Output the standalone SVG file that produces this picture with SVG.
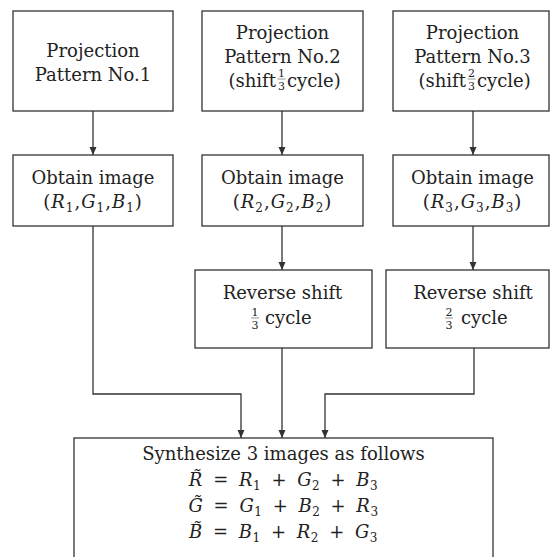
<svg xmlns="http://www.w3.org/2000/svg" width="550" height="557" viewBox="0 0 550 557">
<defs>
<marker id="arr" viewBox="0 0 8 10" refX="8" refY="5" markerWidth="8" markerHeight="10" markerUnits="userSpaceOnUse" orient="auto">
<path d="M0,1.5 L8,5 L0,8.5 z" fill="#333"/>
</marker>
<style>
rect.box{fill:#fff;stroke:#333;stroke-width:1.3}
text{font-family:"DejaVu Serif","Liberation Serif",serif;font-size:18px;fill:#222;text-anchor:middle}
text.fr{font-size:11px}
text.l{text-anchor:end}
text.r{text-anchor:start}
text.m{word-spacing:4px;letter-spacing:0.5px}
text.t{letter-spacing:1px}
.i{font-style:italic}
.sub{font-size:12px}
line.bar{stroke:#666;stroke-width:0.7}
.conn{fill:none;stroke:#333;stroke-width:1.3;marker-end:url(#arr)}
</style>
</defs>
<rect width="550" height="557" fill="#fff"/>
<g id="connectors">
<path class="conn" d="M93,111 V155"/>
<path class="conn" d="M282,111 V155"/>
<path class="conn" d="M473,111 V155"/>
<path class="conn" d="M282,226 V270"/>
<path class="conn" d="M473,226 V270"/>
<path class="conn" d="M93,226 V394 H241 V438"/>
<path class="conn" d="M282,348 V438"/>
<path class="conn" d="M474,348 V394 H325 V438"/>
</g>
<g id="proj1">
<rect class="box" x="13" y="11" width="160" height="100"/>
<text x="93" y="57">Projection</text>
<text x="93" y="81">Pattern No.1</text>
</g>
<g id="proj2">
<rect class="box" x="202" y="11" width="161" height="100"/>
<text x="282.5" y="39">Projection</text>
<text x="282.5" y="63">Pattern No.2</text>
<text class="l" x="276" y="87">(shift</text>
<text class="fr" x="281.5" y="77">1</text>
<line class="bar" x1="277.5" y1="79" x2="285.5" y2="79"/>
<text class="fr" x="281.5" y="90">3</text>
<text class="r" x="287" y="87">cycle)</text>
</g>
<g id="proj3">
<rect class="box" x="393" y="11" width="156" height="100"/>
<text x="472.5" y="39">Projection</text>
<text x="472.5" y="63">Pattern No.3</text>
<text class="l" x="466" y="87">(shift</text>
<text class="fr" x="471.5" y="77">2</text>
<line class="bar" x1="467.5" y1="79" x2="475.5" y2="79"/>
<text class="fr" x="471.5" y="90">3</text>
<text class="r" x="477" y="87">cycle)</text>
</g>
<g id="obtain1">
<rect class="box" x="13" y="155" width="160" height="71"/>
<text x="93" y="184">Obtain image</text>
<text class="t" x="93" y="208">(<tspan class="i">R</tspan><tspan class="sub" dy="4">1</tspan><tspan dy="-4">,</tspan><tspan class="i">G</tspan><tspan class="sub" dy="4">1</tspan><tspan dy="-4">,</tspan><tspan class="i">B</tspan><tspan class="sub" dy="4">1</tspan><tspan dy="-4">)</tspan></text>
</g>
<g id="obtain2">
<rect class="box" x="202" y="155" width="161" height="71"/>
<text x="282.5" y="184">Obtain image</text>
<text class="t" x="282.5" y="208">(<tspan class="i">R</tspan><tspan class="sub" dy="4">2</tspan><tspan dy="-4">,</tspan><tspan class="i">G</tspan><tspan class="sub" dy="4">2</tspan><tspan dy="-4">,</tspan><tspan class="i">B</tspan><tspan class="sub" dy="4">2</tspan><tspan dy="-4">)</tspan></text>
</g>
<g id="obtain3">
<rect class="box" x="393" y="155" width="156" height="71"/>
<text x="472.5" y="184">Obtain image</text>
<text class="t" x="472.5" y="208">(<tspan class="i">R</tspan><tspan class="sub" dy="4">3</tspan><tspan dy="-4">,</tspan><tspan class="i">G</tspan><tspan class="sub" dy="4">3</tspan><tspan dy="-4">,</tspan><tspan class="i">B</tspan><tspan class="sub" dy="4">3</tspan><tspan dy="-4">)</tspan></text>
</g>
<g id="reverse1">
<rect class="box" x="195" y="270" width="177" height="78"/>
<text x="282.5" y="299">Reverse shift</text>
<text class="fr" x="255" y="316">1</text>
<line class="bar" x1="251" y1="318" x2="259" y2="318"/>
<text class="fr" x="255" y="329">3</text>
<text class="r" x="265" y="324">cycle</text>
</g>
<g id="reverse2">
<rect class="box" x="386" y="270" width="163" height="78"/>
<text x="473" y="299">Reverse shift</text>
<text class="fr" x="449" y="316">2</text>
<line class="bar" x1="445" y1="318" x2="453" y2="318"/>
<text class="fr" x="449" y="329">3</text>
<text class="r" x="461" y="324">cycle</text>
</g>
<g id="synthesize">
<rect class="box" x="74" y="438" width="419" height="130"/>
<text x="283.5" y="460">Synthesize 3 images as follows</text>
<text class="m" x="283.5" y="486"><tspan class="i">R̃</tspan> = <tspan class="i">R</tspan><tspan class="sub" dy="4">1</tspan><tspan dy="-4"> + </tspan><tspan class="i">G</tspan><tspan class="sub" dy="4">2</tspan><tspan dy="-4"> + </tspan><tspan class="i">B</tspan><tspan class="sub" dy="4">3</tspan></text>
<text class="m" x="283.5" y="512"><tspan class="i">G̃</tspan> = <tspan class="i">G</tspan><tspan class="sub" dy="4">1</tspan><tspan dy="-4"> + </tspan><tspan class="i">B</tspan><tspan class="sub" dy="4">2</tspan><tspan dy="-4"> + </tspan><tspan class="i">R</tspan><tspan class="sub" dy="4">3</tspan></text>
<text class="m" x="283.5" y="538"><tspan class="i">B̃</tspan> = <tspan class="i">B</tspan><tspan class="sub" dy="4">1</tspan><tspan dy="-4"> + </tspan><tspan class="i">R</tspan><tspan class="sub" dy="4">2</tspan><tspan dy="-4"> + </tspan><tspan class="i">G</tspan><tspan class="sub" dy="4">3</tspan></text>
</g>
</svg>
